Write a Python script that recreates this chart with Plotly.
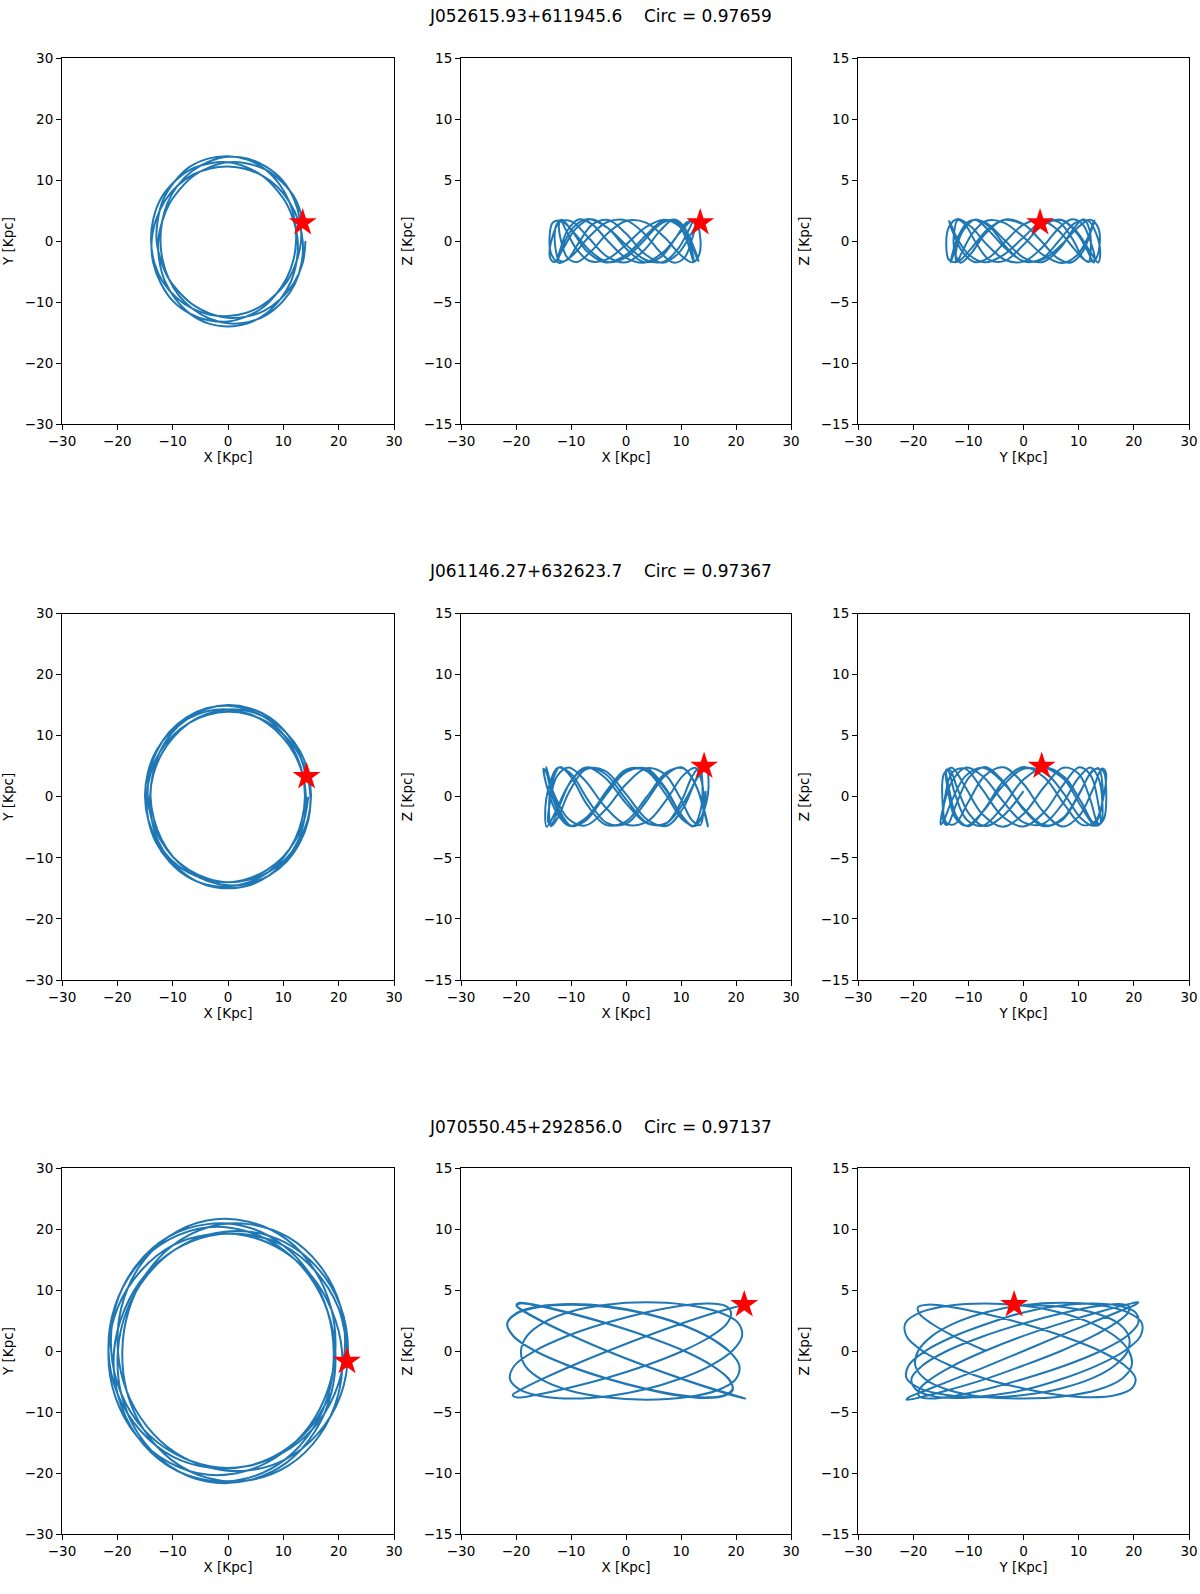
import plotly.graph_objects as go
from plotly.subplots import make_subplots

# star names and circularity
names = ['J052615.93+611945.6', 'J061146.27+632623.7', 'J070550.45+292856.0']
circ = ['0.97659', '0.97367', '0.97137']

# present positions (the red stars)
star_x = [13.5, 14.2, 21.5]
star_y = [3.0, 3.3, -1.7]
star_z = [1.5, 2.5, 3.8]

# orbit 1
x1 = [13.5, 12.1, 9.7, 6.8, 3.4, 0.0, -3.3, -6.2, -8.6, -10.6, -11.9, -12.6, -12.4, -11.4, -9.5, -6.9, -3.6, 0.0, 3.6, 6.9, 9.5, 11.4, 12.4, 12.6,
      11.9, 10.6, 8.6, 6.2, 3.3, 0.0, -3.4, -6.8, -9.7, -12.1, -13.5, -13.9, -13.3, -11.7, -9.3, -6.4, -3.3, 0.0, 3.2, 6.1, 8.7, 10.9, 12.4, 13.2,
      13.0, 11.9, 9.9, 7.0, 3.6, 0.0, -3.5, -6.6, -9.1, -10.9, -11.9, -12.2, -11.8, -10.7, -8.9, -6.4, -3.4, 0.0, 3.6, 7.0, 9.9, 12.1, 13.3, 13.5,
      12.7, 11.1, 8.9, 6.2, 3.2, 0.0, -3.2, -6.3, -9.1, -11.4, -13.0, -13.8, -13.5, -12.1, -9.9, -6.9, -3.5, 0.0, 3.3, 6.3, 8.7, 10.6, 11.8, 12.3,
      12.1, 11.1, 9.3, 6.8, 3.6, 0.0, -3.6, -7.0, -9.7, -11.7, -12.7, -12.9, -12.1, -10.7, -8.6, -6.1, -3.2, 0.0, 3.3, 6.6, 9.5, 11.9, 13.5, 14.0]
y1 = [3.6, 7.0, 9.7, 11.7, 12.7, 12.9, 12.1, 10.7, 8.6, 6.1, 3.2, 0.0, -3.3, -6.6, -9.5, -11.9, -13.5, -14.0, -13.5, -11.9, -9.5, -6.6, -3.3, 0.0,
      3.2, 6.1, 8.6, 10.7, 12.1, 12.9, 12.7, 11.7, 9.7, 7.0, 3.6, 0.0, -3.6, -6.8, -9.3, -11.1, -12.1, -12.3, -11.8, -10.6, -8.7, -6.3, -3.3, 0.0,
      3.5, 6.9, 9.9, 12.1, 13.5, 13.8, 13.0, 11.4, 9.1, 6.3, 3.2, 0.0, -3.2, -6.2, -8.9, -11.1, -12.7, -13.5, -13.3, -12.1, -9.9, -7.0, -3.6, 0.0,
      3.4, 6.4, 8.9, 10.7, 11.8, 12.2, 11.9, 10.9, 9.1, 6.6, 3.5, 0.0, -3.6, -7.0, -9.9, -11.9, -13.0, -13.2, -12.4, -10.9, -8.7, -6.1, -3.2, 0.0,
      3.3, 6.4, 9.3, 11.7, 13.3, 13.9, 13.5, 12.1, 9.7, 6.8, 3.4, 0.0, -3.3, -6.2, -8.6, -10.6, -11.9, -12.6, -12.4, -11.4, -9.5, -6.9, -3.6, 0.0]
z1 = [1.56, 1.69, 0.62, -0.9, -1.77, -1.38, 0, 1.38, 1.77, 0.9, -0.62, -1.69, -1.56, -0.31, 1.16, 1.8, 1.16, -0.31, -1.56, -1.69, -0.62, 0.9, 1.77, 1.38,
      0, -1.38, -1.77, -0.9, 0.62, 1.69, 1.56, 0.31, -1.16, -1.8, -1.16, 0.31, 1.51, 1.64, 0.6, -0.87, -1.72, -1.34, 0, 1.34, 1.72, 0.87, -0.6, -1.64,
      -1.51, -0.3, 1.13, 1.75, 1.13, -0.3, -1.51, -1.64, -0.6, 0.87, 1.72, 1.34, 0, -1.34, -1.72, -0.87, 0.6, 1.64, 1.51, 0.3, -1.13, -1.75, -1.13, 0.3,
      1.61, 1.54, 0.15, -1.36, -1.72, -0.61, 1.02, 1.78, 1.02, -0.61, -1.72, -1.36, 0.15, 1.54, 1.61, 0.31, -1.26, -1.75, -0.75, 0.89, 1.77, 1.14, -0.46, -1.67,
      -1.46, 0, 1.46, 1.67, 0.46, -1.14, -1.77, -0.89, 0.75, 1.75, 1.26, -0.31, -1.61, -1.54, -0.15, 1.36, 1.72, 0.61, -1.02, -1.78, -1.02, 0.61, 1.72, 1.36]

# orbit 2
x2 = [14.0, 12.7, 10.5, 7.5, 3.9, 0.0, -3.8, -7.4, -10.3, -12.4, -13.6, -14.0, -13.4, -12.0, -9.9, -7.1, -3.7, 0.0, 3.8, 7.4, 10.6, 13.0, 14.5, 14.9,
      14.2, 12.6, 10.1, 7.1, 3.6, 0.0, -3.6, -7.0, -10.0, -12.4, -14.0, -14.7, -14.4, -13.0, -10.6, -7.5, -3.8, 0.0, 3.8, 7.2, 10.0, 12.1, 13.4, 13.9,
      13.5, 12.2, 10.1, 7.3, 3.8, 0.0, -3.9, -7.5, -10.6, -12.9, -14.2, -14.5, -13.8, -12.2, -9.9, -7.0, -3.6, 0.0, 3.7, 7.2, 10.3, 12.7, 14.4, 15.0,
      14.5, 13.0, 10.5, 7.4, 3.8, 0.0, -3.7, -7.0, -9.8, -12.0, -13.5, -14.1, -13.8, -12.6, -10.4, -7.4, -3.9, 0.0, 3.9, 7.4, 10.4, 12.6, 13.8, 14.1,
      13.5, 12.0, 9.8, 7.0, 3.7, 0.0, -3.8, -7.4, -10.5, -13.0, -14.5, -15.0, -14.4, -12.7, -10.3, -7.2, -3.7, 0.0, 3.6, 7.0, 9.9, 12.2, 13.8, 14.5]
y2 = [3.8, 7.4, 10.5, 13.0, 14.5, 15.0, 14.4, 12.7, 10.3, 7.2, 3.7, 0.0, -3.6, -7.0, -9.9, -12.2, -13.8, -14.5, -14.2, -12.9, -10.6, -7.5, -3.9, 0.0,
      3.8, 7.3, 10.1, 12.2, 13.5, 13.9, 13.4, 12.1, 10.0, 7.2, 3.8, 0.0, -3.8, -7.5, -10.6, -13.0, -14.4, -14.7, -14.0, -12.4, -10.0, -7.0, -3.6, 0.0,
      3.6, 7.1, 10.1, 12.6, 14.2, 14.9, 14.5, 13.0, 10.6, 7.4, 3.8, 0.0, -3.7, -7.1, -9.9, -12.0, -13.4, -14.0, -13.6, -12.4, -10.3, -7.4, -3.8, 0.0,
      3.9, 7.5, 10.5, 12.7, 14.0, 14.3, 13.6, 12.1, 9.8, 7.0, 3.6, 0.0, -3.7, -7.3, -10.4, -12.9, -14.5, -15.0, -14.5, -12.9, -10.4, -7.3, -3.7, 0.0,
      3.6, 7.0, 9.8, 12.1, 13.6, 14.3, 14.0, 12.7, 10.5, 7.5, 3.9, 0.0, -3.8, -7.4, -10.3, -12.4, -13.6, -14.0, -13.4, -12.0, -9.9, -7.1, -3.7, 0.0]
z2 = [2.45, 1.41, -0.84, -2.37, -1.88, 0.21, 2.12, 2.22, 0.43, -1.73, -2.41, -1.04, 1.23, 2.44, 1.57, -0.63, -2.30, -2.01, 0, 2.01, 2.30, 0.63, -1.57, -2.44,
      -1.23, 1.04, 2.41, 1.73, -0.43, -2.22, -2.12, -0.21, 1.88, 2.37, 0.84, -1.41, -2.45, -1.41, 0.84, 2.37, 1.88, -0.21, -2.12, -2.22, -0.43, 1.73, 2.41, 1.04,
      -1.23, -2.44, -1.57, 0.63, 2.30, 2.01, 0, -2.01, -2.30, -0.63, 1.57, 2.44, 1.23, -1.04, -2.41, -1.73, 0.43, 2.22, 2.12, 0.21, -1.88, -2.37, -0.84, 1.41,
      2.40, 1.57, -0.46, -2.14, -2.17, -0.54, 1.51, 2.40, 1.44, -0.62, -2.21, -2.10, -0.38, 1.64, 2.39, 1.31, -0.78, -2.27, -2.01, -0.21, 1.75, 2.37, 1.16, -0.94,
      -2.32, -1.92, -0.04, 1.87, 2.34, 1.02, -1.09, -2.36, -1.81, 0.13, 1.97, 2.29, 0.86, -1.24, -2.38, -1.70, 0.29, 2.06, 2.24, 0.70, -1.38, -2.40, -1.57, 0.46]

# orbit 3
x3 = [21.6, 19.9, 15.7, 10.0, 3.4, -3.3, -9.6, -14.9, -18.7, -20.6, -19.9, -16.5, -10.9, -3.7, 3.7, 10.3, 15.3, 18.3,
      19.1, 18.0, 14.9, 10.0, 3.6, -3.7, -10.8, -16.6, -20.3, -21.1, -19.3, -15.3, -9.7, -3.3, 3.3, 9.7, 15.3, 19.3,
      21.1, 20.3, 16.6, 10.8, 3.7, -3.6, -10.0, -14.9, -18.0, -19.1, -18.3, -15.3, -10.3, -3.7, 3.7, 10.9, 16.5, 19.9,
      20.6, 18.7, 14.9, 9.6, 3.3, -3.4, -10.0, -15.7, -19.9, -21.6, -20.4, -16.5, -10.6, -3.6, 3.5, 9.7, 14.7, 18.0,
      19.4, 18.7, 15.7, 10.6, 3.7, -3.8, -10.8, -16.2, -19.3, -19.9, -18.3, -14.7, -9.6, -3.4, 3.5, 10.3, 16.2, 20.3,
      21.7, 20.3, 16.2, 10.3, 3.5, -3.4, -9.6, -14.7, -18.3, -19.9, -19.3, -16.2, -10.8, -3.8, 3.7, 10.6, 15.7, 18.7,
      19.4, 18.0, 14.7, 9.7, 3.5, -3.6, -10.6, -16.5, -20.4, -21.6, -19.9, -15.7, -10.0, -3.4, 3.3, 9.6, 14.9, 18.7]
y3 = [0.0, 7.2, 13.2, 17.3, 19.1, 18.9, 16.6, 12.5, 6.8, 0.0, -7.2, -13.9, -18.8, -21.2, -20.8, -17.8, -12.8, -6.6,
      0.0, 6.5, 12.5, 17.3, 20.3, 20.8, 18.7, 14.0, 7.4, 0.0, -7.0, -12.8, -16.8, -18.9, -18.9, -16.8, -12.8, -7.0,
      0.0, 7.4, 14.0, 18.7, 20.8, 20.3, 17.3, 12.5, 6.5, 0.0, -6.6, -12.8, -17.8, -20.8, -21.2, -18.8, -13.9, -7.2,
      0.0, 6.8, 12.5, 16.6, 18.9, 19.1, 17.3, 13.2, 7.2, 0.0, -7.4, -13.9, -18.3, -20.3, -19.6, -16.8, -12.3, -6.5,
      0.0, 6.8, 13.2, 18.3, 21.2, 21.4, 18.7, 13.6, 7.0, 0.0, -6.6, -12.3, -16.6, -19.1, -19.6, -17.8, -13.6, -7.4,
      0.0, 7.4, 13.6, 17.8, 19.6, 19.1, 16.6, 12.3, 6.6, 0.0, -7.0, -13.6, -18.7, -21.4, -21.2, -18.3, -13.2, -6.8,
      0.0, 6.5, 12.3, 16.8, 19.6, 20.3, 18.3, 13.9, 7.4, 0.0, -7.2, -13.2, -17.3, -19.1, -18.9, -16.6, -12.5, -6.8]
z3 = [3.8, 3.61, 3.07, 2.23, 1.17, 0, -1.17, -2.23, -3.07, -3.61, -3.8, -3.61, -3.07, -2.23, -1.17, 0, 1.17, 2.23,
      3.16, 3.71, 3.9, 3.71, 3.16, 2.29, 1.21, 0, -1.21, -2.29, -3.16, -3.71, -3.9, -3.71, -3.16, -2.29, -1.21, 0,
      1.24, 2.35, 3.24, 3.8, 4.0, 3.8, 3.24, 2.35, 1.24, 0, -1.24, -2.35, -3.24, -3.8, -4.0, -3.8, -3.24, -2.35,
      -1.19, 0, 1.19, 2.26, 3.11, 3.66, 3.85, 3.66, 3.11, 2.26, 1.19, 0, -1.19, -2.26, -3.11, -3.66, -3.85, -3.66,
      -3.2, -2.32, -1.22, 0, 1.22, 2.32, 3.2, 3.76, 3.95, 3.76, 3.2, 2.32, 1.22, 0, -1.22, -2.32, -3.2, -3.76,
      -3.9, -3.71, -3.16, -2.29, -1.21, 0, 1.21, 2.29, 3.16, 3.71, 3.9, 3.71, 3.16, 2.29, 1.21, 0, -1.21, -2.29,
      -3.07, -3.61, -3.8, -3.61, -3.07, -2.23, -1.17, 0, 1.17, 2.23, 3.07, 3.61, 3.8, 3.61, 3.07, 2.23, 1.17, 0]

orbits = [(x1, y1, z1), (x2, y2, z2), (x3, y3, z3)]

W, H = 1200, 1594
col_px = [(62, 394), (461, 791), (858, 1189)]
row_px = [(58, 424), (613.5, 980), (1168, 1534)]
title_px = [16, 571, 1127]

fig = make_subplots(rows=3, cols=3)

font = dict(family='DejaVu Sans', size=13.5, color='black')

for r in range(3):
    xo, yo, zo = orbits[r]
    panels = [(xo, yo, star_x[r], star_y[r], 'X [Kpc]', 'Y [Kpc]', 30),
              (xo, zo, star_x[r], star_z[r], 'X [Kpc]', 'Z [Kpc]', 15),
              (yo, zo, star_y[r], star_z[r], 'Y [Kpc]', 'Z [Kpc]', 15)]
    for c, (hx, vy, sx, sy, xt, yt, ylim) in enumerate(panels):
        fig.add_trace(go.Scatter(
            x=hx, y=vy, mode='lines',
            line=dict(color='#1f77b4', width=2, shape='spline', smoothing=1.0),
            showlegend=False, hoverinfo='skip'
        ), row=r + 1, col=c + 1)
        fig.add_trace(go.Scatter(
            x=[sx], y=[sy], mode='markers',
            marker=dict(symbol='star', size=21, color='red', line=dict(width=0)),
            showlegend=False
        ), row=r + 1, col=c + 1)
        fig.update_xaxes(
            domain=[col_px[c][0] / W, col_px[c][1] / W],
            range=[-30, 30], dtick=10, title=dict(text=xt, font=font, standoff=4),
            row=r + 1, col=c + 1
        )
        fig.update_yaxes(
            domain=[1 - row_px[r][1] / H, 1 - row_px[r][0] / H],
            range=[-ylim, ylim], dtick=ylim / 3, title=dict(text=yt, font=font, standoff=8),
            row=r + 1, col=c + 1
        )
    fig.add_annotation(
        x=0.5, y=1 - title_px[r] / H, xref='paper', yref='paper',
        text=f'{names[r]}    Circ = {circ[r]}'.replace(' ', '&nbsp;'),
        showarrow=False, xanchor='center', yanchor='middle',
        font=dict(family='DejaVu Sans', size=17, color='black')
    )

axis_style = dict(
    showline=True, mirror=True, linecolor='black', linewidth=1,
    ticks='outside', ticklen=5, tickcolor='black', tickwidth=1,
    showgrid=False, zeroline=False, automargin=False,
    tickfont=dict(family='DejaVu Sans', size=13.5, color='black')
)
fig.update_xaxes(**axis_style)
fig.update_yaxes(**axis_style)
fig.update_layout(
    width=W, height=H,
    margin=dict(l=0, r=0, t=0, b=0),
    plot_bgcolor='#FFFFFF',
    paper_bgcolor='#FFFFFF',
)

# drop the page's default body margin so the figure sits at the window corner
fig.write_html('out.html', config={'displayModeBar': False},
               post_script="document.body.style.margin='0';")
